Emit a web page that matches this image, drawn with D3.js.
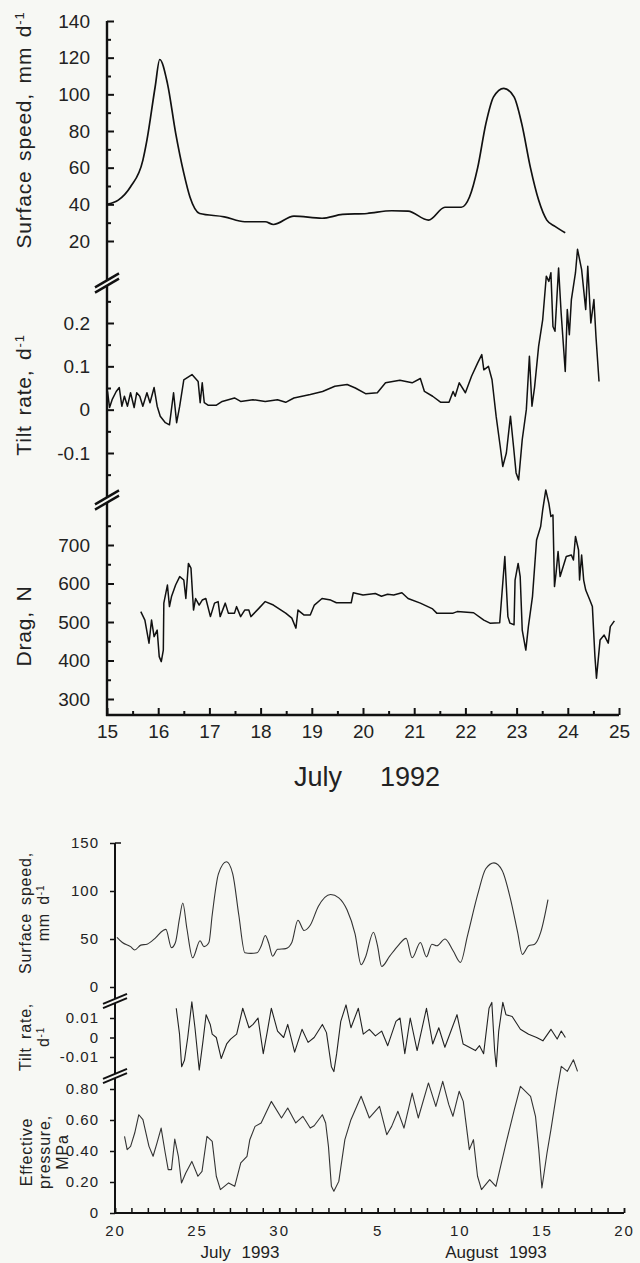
<!DOCTYPE html>
<html>
<head>
<meta charset="utf-8">
<script src="https://cdn.jsdelivr.net/npm/d3@7"></script>
<style>
  body { margin: 0; background: #f7f8f4; }
  svg { display: block; font-family: "Liberation Sans", Arial, sans-serif; }
</style>
</head>
<body>
<div id="chart"></div>
<script>
/* global d3 */

// ---- July 1992 (upper figure) ----
const speedDays92 = [15.02,15.22,15.46,15.70,15.78,15.94,16.03,16.18,16.34,16.50,16.62,16.81,17.29,17.69,18.09,18.25,18.65,19.2,19.6,20.08,20.56,20.88,21.28,21.6,21.92,22.08,22.24,22.4,22.55,22.75,22.95,23.1,23.27,23.43,23.59,23.75,23.95]
const speedVals92 = [40.2,42.3,49.6,64,75,104,119,106,79,57,44,35,33.2,30.5,30.5,29,33.6,32.4,34.5,35,36.5,36.3,31.4,38.4,38.4,44,60,84,98.6,103.3,98.6,84,60,42.3,31.4,28,24.5]

const tiltDays92 = [15.01,15.05,15.10,15.18,15.24,15.29,15.34,15.40,15.46,15.53,15.58,15.64,15.70,15.78,15.84,15.92,15.98,16.04,16.14,16.22,16.30,16.36,16.42,16.50,16.66,16.78,16.82,16.86,16.90,16.98,17.13,17.25,17.49,17.61,17.85,18.09,18.33,18.49,18.65,18.97,19.21,19.45,19.69,19.85,20.05,20.28,20.44,20.72,20.96,21.12,21.20,21.36,21.52,21.68,21.76,21.80,21.88,22.00,22.12,22.24,22.32,22.36,22.45,22.52,22.60,22.68,22.73,22.80,22.88,22.94,22.99,23.04,23.11,23.19,23.25,23.30,23.35,23.43,23.51,23.58,23.63,23.67,23.71,23.75,23.82,23.87,23.95,23.99,24.03,24.07,24.15,24.19,24.27,24.35,24.39,24.45,24.51,24.55,24.61]
const tiltVals92 = [0.042,0.005,0.023,0.042,0.051,0.008,0.031,0.008,0.039,0.005,0.039,0.031,0.008,0.039,0.016,0.051,0.008,-0.015,-0.030,-0.035,0.039,-0.030,0.008,0.069,0.081,0.065,0.016,0.062,0.016,0.010,0.010,0.019,0.027,0.019,0.023,0.019,0.023,0.017,0.027,0.035,0.042,0.054,0.058,0.050,0.037,0.039,0.062,0.068,0.062,0.072,0.042,0.031,0.017,0.017,0.042,0.031,0.062,0.039,0.077,0.108,0.127,0.092,0.100,0.069,-0.015,-0.085,-0.131,-0.100,-0.015,-0.085,-0.146,-0.162,-0.069,0.000,0.123,0.008,0.051,0.146,0.208,0.308,0.296,0.316,0.192,0.181,0.327,0.223,0.088,0.231,0.173,0.254,0.316,0.370,0.323,0.231,0.331,0.200,0.254,0.169,0.065]

const dragDays92 = [15.66,15.74,15.82,15.87,15.92,15.98,16.02,16.06,16.10,16.11,16.18,16.22,16.26,16.34,16.42,16.50,16.54,16.59,16.64,16.69,16.73,16.80,16.86,16.93,17.02,17.10,17.17,17.21,17.31,17.37,17.49,17.53,17.61,17.69,17.77,17.81,17.97,18.09,18.25,18.49,18.61,18.69,18.73,18.85,18.97,19.05,19.20,19.37,19.48,19.77,19.81,20.00,20.24,20.36,20.48,20.60,20.76,20.88,21.12,21.36,21.44,21.76,21.84,22.16,22.36,22.48,22.67,22.77,22.83,22.87,22.95,22.97,23.03,23.07,23.11,23.18,23.23,23.31,23.39,23.47,23.51,23.57,23.63,23.67,23.71,23.74,23.77,23.81,23.85,23.91,23.97,24.07,24.11,24.15,24.21,24.23,24.27,24.31,24.35,24.43,24.48,24.53,24.56,24.63,24.71,24.79,24.83,24.91]
const dragVals92 = [527,505,445,505,462,479,410,397,427,549,596,540,566,596,618,609,561,652,640,531,561,544,557,561,514,549,553,514,549,523,523,540,514,531,531,514,536,553,544,523,510,484,531,518,518,544,561,557,550,550,576,570,574,567,572,570,576,561,549,534,523,523,527,524,505,497,498,670,514,497,493,609,652,618,479,427,488,566,713,748,791,843,808,774,778,592,626,683,618,644,670,674,661,722,687,609,674,609,583,557,540,410,354,453,466,445,488,503]

const dayTicks92 = [15,16,17,18,19,20,21,22,23,24,25]
const speedTicks92 = [20,40,60,80,100,120,140]
const tiltTicks92 = [-0.1,0,0.1,0.2]
const dragTicks92 = [300,400,500,600,700]

// ---- July/August 1993 (lower figure), t = day counted from 0 July ----
const speedT93 = [20.12,20.45,20.95,21.2,21.57,21.95,22.44,22.93,23.1,23.44,23.68,23.93,24.13,24.38,24.73,25.18,25.42,25.72,25.92,26.3,26.79,27.17,27.54,27.91,28.28,28.65,28.91,29.15,29.35,29.6,29.9,30.4,30.77,31.14,31.51,31.89,32.38,33.13,33.63,34.13,34.62,34.99,35.24,35.74,35.99,36.24,36.73,37.23,37.73,38.1,38.6,38.97,39.3,39.6,40.1,40.6,41.04,41.47,42.09,42.58,43.08,43.58,44.07,44.52,44.81,45.19,45.56,45.93,46.37]
const speedV93 = [51.8,46.4,42.1,38.6,43.6,44.6,50.7,58.9,60,41,46.4,71.4,87.5,60.7,30.4,48.2,42.1,46.4,75,117.9,130.4,117.9,75,35.7,35,35.7,42.9,53.6,46.4,32.1,39.3,40,46.4,69.6,58.9,64.3,83.9,96.4,92.9,80.4,55.4,23.2,30.4,57.1,42.9,21.4,32.1,42.9,50.7,30.4,46.4,31.4,44.6,42.9,50,37.5,25.7,53.6,96.4,123.2,129.3,121.4,92.9,57.1,33.9,42.9,44.6,57.1,91]

const tiltT93 = [23.73,23.93,24.06,24.23,24.43,24.68,24.87,25.13,25.36,25.55,25.8,25.92,26.17,26.47,26.8,27.04,27.41,27.78,28.16,28.41,28.71,29.03,29.28,29.52,29.9,30.27,30.52,30.94,31.39,31.76,32.13,32.63,32.88,33.18,33.33,33.5,33.75,34.07,34.37,34.82,35.12,35.49,35.86,36.24,36.61,37.11,37.36,37.65,37.98,38.4,38.97,39.35,39.72,40.09,40.46,40.83,41.2,41.58,41.95,42.2,42.45,42.78,42.95,43.12,43.22,43.37,43.62,43.81,44.19,44.69,45.19,45.68,46.06,46.55,46.93,47.18,47.43]
const tiltV93 = [0.015,0.0017,-0.015,-0.0117,0,0.0183,0.005,-0.0167,-0.0017,0.0117,0.0067,0.0017,0,-0.0108,-0.0033,-0.0008,0.0017,0.015,0.005,0.0067,0.01,-0.0083,0.0033,0.015,0.0033,0,0.0067,-0.0075,0.0042,-0.0025,0,0.0067,0.0025,-0.015,-0.0175,-0.0083,0.0083,0.0167,0.005,0.015,0.0017,0.0042,0.0008,0.0033,-0.0042,0.0083,0.01,-0.0083,0.01,-0.0067,0.015,-0.0033,0.005,-0.005,0.0033,0.0117,-0.0033,-0.005,-0.0067,-0.0042,-0.0083,0.015,0.018,-0.0067,-0.015,0.0033,0.018,0.0117,0.0108,0.0042,0.0017,0,-0.0017,0.0042,-0.0008,0.0033,0]

const pressT93 = [20.58,20.74,20.95,21.2,21.45,21.7,22.07,22.32,22.56,22.81,23.06,23.24,23.44,23.64,23.86,24.05,24.31,24.68,25.05,25.3,25.6,25.92,26.17,26.42,26.92,27.29,27.66,28.04,28.21,28.53,28.9,29.52,30.14,30.52,31.01,31.44,31.89,32.13,32.63,32.83,33.0,33.18,33.33,33.63,34.0,34.37,34.99,35.49,36.11,36.55,36.85,37.23,37.6,38.1,38.47,39.09,39.54,39.96,40.33,40.58,40.96,41.21,41.58,41.83,42.08,42.32,42.82,43.2,43.82,44.32,44.69,45.31,45.61,45.81,46.0,46.31,46.55,46.93,47.18,47.55,47.92,48.17]
const pressV93 = [0.495,0.409,0.430,0.516,0.634,0.602,0.430,0.366,0.452,0.548,0.387,0.280,0.280,0.477,0.366,0.194,0.258,0.333,0.237,0.269,0.495,0.462,0.237,0.151,0.194,0.172,0.323,0.366,0.473,0.559,0.581,0.720,0.613,0.677,0.581,0.624,0.548,0.563,0.634,0.581,0.430,0.172,0.140,0.204,0.473,0.602,0.753,0.613,0.688,0.505,0.559,0.656,0.548,0.774,0.613,0.839,0.688,0.849,0.699,0.624,0.785,0.720,0.409,0.473,0.237,0.151,0.215,0.172,0.452,0.667,0.817,0.753,0.624,0.409,0.161,0.387,0.538,0.796,0.946,0.914,0.989,0.914]

const dayTicks93 = [20,25,30,36,41,46,51]
const speedTicks93 = [0,50,100,150]
const tiltTicks93 = [-0.01,0,0.01]
const pressTicks93 = [0,0.2,0.4,0.6,0.8]

// Canvas
const width = 640, height = 1263, bg = '#f7f8f4'

let svg = d3.select('#chart')
  .append('svg')
  .attr('width', width)
  .attr('height', height)
  .style('background', bg)

// Scales, upper figure
const x92 = d3.scaleLinear().domain([15, 25]).range([107, 619])
const ySpeed92 = d3.scaleLinear().domain([20, 140]).range([241, 21])
const yTilt92 = d3.scaleLinear().domain([-0.1, 0.2]).range([453, 323])
const yDrag92 = d3.scaleLinear().domain([300, 700]).range([699, 545])
const axisY92 = 715

// Scales, lower figure
const x93 = d3.scaleLinear().domain([20, 51]).range([115, 624])
const ySpeed93 = d3.scaleLinear().domain([0, 150]).range([987, 843])
const yTilt93 = d3.scaleLinear().domain([-0.01, 0.01]).range([1057, 1018])
const yPress93 = d3.scaleLinear().domain([0, 0.8]).range([1213, 1089])

// helpers
let drawSeries = (xs, ys, xScale, yScale, curve, stroke, w) => {
  svg.append('path')
    .datum(d3.zip(xs, ys))
    .attr('fill', 'none')
    .attr('stroke', stroke)
    .attr('stroke-width', w)
    .attr('stroke-linejoin', 'round')
    .attr('d', d3.line()
      .x(d => xScale(d[0]))
      .y(d => yScale(d[1]))
      .curve(curve))
}

let styleAxis = (g, w, size) => {
  g.select('.domain').remove()
  g.selectAll('.tick line').attr('stroke', '#111').attr('stroke-width', w)
  g.selectAll('.tick text').attr('fill', '#222').style('font-size', size + 'px')
  g.attr('font-family', null)
}

let drawBreak = (x, y, dx, dy, gap, w) => {
  svg.append('path')
    .attr('d', `M${x - dx},${y + dy + gap}L${x + dx},${y - dy + gap}L${x + dx},${y - dy - gap}L${x - dx},${y + dy - gap}Z`)
    .attr('fill', bg)
  ;[-gap, gap].forEach(o => {
    svg.append('line')
      .attr('x1', x - dx).attr('y1', y + dy + o)
      .attr('x2', x + dx).attr('y2', y - dy + o)
      .attr('stroke', '#111').attr('stroke-width', w)
  })
}

let vTitle = (x, y, lines, size, spacing) => {
  lines.forEach((parts, i) => {
    let t = svg.append('text')
      .attr('transform', `translate(${x + i * spacing},${y}) rotate(-90)`)
      .attr('text-anchor', 'middle')
      .attr('dy', '0.35em')
      .attr('fill', '#222')
      .style('font-size', size + 'px')
      .style('letter-spacing', '0.8px')
      .style('word-spacing', '3px')
    parts.forEach(p => {
      let s = t.append('tspan').text(p.t)
      if (p.sup) s.attr('baseline-shift', 'super').style('font-size', Math.round(size * 0.62) + 'px')
    })
  })
}

// plain hyphen for negatives, as printed
const hy = f => d => d === 0 ? '0' : f(d).replace('\u2212', '-')

// ---------- upper figure ----------
let yPanel92 = (scale, major, minor, fmt) => {
  svg.append('g').attr('transform', `translate(${x92(15)},0)`)
    .call(d3.axisLeft(scale).tickValues(minor).tickSize(-4).tickFormat(''))
    .call(g => styleAxis(g, 2, 18))
  svg.append('g').attr('transform', `translate(${x92(15)},0)`)
    .call(d3.axisLeft(scale).tickValues(major).tickSize(-7).tickPadding(17).tickFormat(fmt))
    .call(g => styleAxis(g, 2, 19))
}
yPanel92(ySpeed92, speedTicks92, d3.range(30, 140, 20), d3.format('d'))
yPanel92(yTilt92, tiltTicks92, [-0.15, -0.05, 0.05, 0.15, 0.25], hy(d3.format('.1f')))
yPanel92(yDrag92, dragTicks92, [350, 450, 550, 650, 750], d3.format('d'))

// x axis
svg.append('g').attr('transform', `translate(0,${axisY92})`)
  .call(d3.axisBottom(x92).tickValues(d3.range(15.5, 25, 1)).tickSize(-4).tickFormat(''))
  .call(g => styleAxis(g, 2, 18))
svg.append('g').attr('transform', `translate(0,${axisY92})`)
  .call(d3.axisBottom(x92).tickValues(dayTicks92).tickSize(-7).tickPadding(10).tickFormat(d3.format('d')))
  .call(g => styleAxis(g, 2, 19))

// axis lines
svg.append('line').attr('x1', x92(15)).attr('x2', x92(15))
  .attr('y1', ySpeed92(140)).attr('y2', axisY92 + 1)
  .attr('stroke', '#111').attr('stroke-width', 2.4)
svg.append('line').attr('x1', x92(15) - 1).attr('x2', x92(25))
  .attr('y1', axisY92).attr('y2', axisY92)
  .attr('stroke', '#111').attr('stroke-width', 2.4)

drawBreak(x92(15), 283, 12, 7, 2.6, 2.4)
drawBreak(x92(15), 500, 12, 7, 2.6, 2.4)

drawSeries(speedDays92, speedVals92, x92, ySpeed92, d3.curveMonotoneX, '#111', 1.7)
drawSeries(tiltDays92, tiltVals92, x92, yTilt92, d3.curveLinear, '#111', 1.5)
drawSeries(dragDays92, dragVals92, x92, yDrag92, d3.curveLinear, '#111', 1.5)

vTitle(24, 130, [[{t: 'Surface speed, mm d'}, {t: '-1', sup: true}]], 21, 0)
vTitle(24, 395, [[{t: 'Tilt rate, d'}, {t: '-1', sup: true}]], 21, 0)
vTitle(24, 626, [[{t: 'Drag, N'}]], 21, 0)

svg.append('text').attr('x', 318).attr('y', 777).attr('dy', '0.35em')
  .attr('text-anchor', 'middle').attr('fill', '#222').style('font-size', '27px').text('July')
svg.append('text').attr('x', 410).attr('y', 777).attr('dy', '0.35em')
  .attr('text-anchor', 'middle').attr('fill', '#222').style('font-size', '27px').text('1992')

// ---------- lower figure ----------
let yPanel93 = (scale, major, fmt) => {
  svg.append('g').attr('transform', `translate(${x93(20)},0)`)
    .call(d3.axisLeft(scale).tickValues(major).tickSize(5).tickPadding(11).tickFormat(fmt))
    .call(g => styleAxis(g, 1.5, 15))
    .call(g => g.selectAll('.tick text').style('letter-spacing', '1px'))
}
yPanel93(ySpeed93, speedTicks93, d3.format('d'))
yPanel93(yTilt93, tiltTicks93, hy(d3.format('.2f')))
yPanel93(yPress93, pressTicks93, hy(d3.format('.2f')))

svg.append('g').attr('transform', `translate(0,${yPress93(0)})`)
  .call(d3.axisBottom(x93).tickValues(d3.range(20, 52, 1)).tickSize(-5).tickFormat(''))
  .call(g => styleAxis(g, 1.5, 15))
svg.append('g').attr('transform', `translate(0,${yPress93(0)})`)
  .call(d3.axisBottom(x93).tickValues(dayTicks93).tickSize(-5).tickPadding(12)
    .tickFormat(d => d > 31 ? d - 31 : d))
  .call(g => styleAxis(g, 1.5, 15))
  .call(g => g.selectAll('.tick text').style('letter-spacing', '2px'))

svg.append('line').attr('x1', x93(20)).attr('x2', x93(20))
  .attr('y1', ySpeed93(150)).attr('y2', yPress93(0) + 1)
  .attr('stroke', '#111').attr('stroke-width', 2)
svg.append('line').attr('x1', x93(20)).attr('x2', x93(20) + 6)
  .attr('y1', ySpeed93(150)).attr('y2', ySpeed93(150))
  .attr('stroke', '#111').attr('stroke-width', 1.5)
svg.append('line').attr('x1', x93(20) - 1).attr('x2', x93(51))
  .attr('y1', yPress93(0)).attr('y2', yPress93(0))
  .attr('stroke', '#111').attr('stroke-width', 2)

drawBreak(x93(20), 1001, 12, 5, 2.2, 2)
drawBreak(x93(20), 1076, 12, 5, 2.2, 2)

drawSeries(speedT93, speedV93, x93, ySpeed93, d3.curveMonotoneX, '#333', 1.1)
drawSeries(tiltT93, tiltV93, x93, yTilt93, d3.curveLinear, '#222', 1.1)
drawSeries(pressT93, pressV93, x93, yPress93, d3.curveLinear, '#333', 1.1)

vTitle(25, 913, [[{t: 'Surface speed,'}], [{t: 'mm d'}, {t: '-1', sup: true}]], 16, 18)
vTitle(25, 1037, [[{t: 'Tilt rate,'}], [{t: 'd'}, {t: '-1', sup: true}]], 16, 18)
vTitle(26, 1152, [[{t: 'Effective'}], [{t: 'pressure,'}], [{t: 'MPa'}]], 16, 18)

svg.append('text').attr('x', 240).attr('y', 1252).attr('dy', '0.35em')
  .attr('text-anchor', 'middle').attr('fill', '#222').style('font-size', '17px')
  .style('word-spacing', '6px').text('July 1993')
svg.append('text').attr('x', 496).attr('y', 1252).attr('dy', '0.35em')
  .attr('text-anchor', 'middle').attr('fill', '#222').style('font-size', '17px')
  .style('word-spacing', '6px').text('August 1993')
</script>
</body>
</html>
